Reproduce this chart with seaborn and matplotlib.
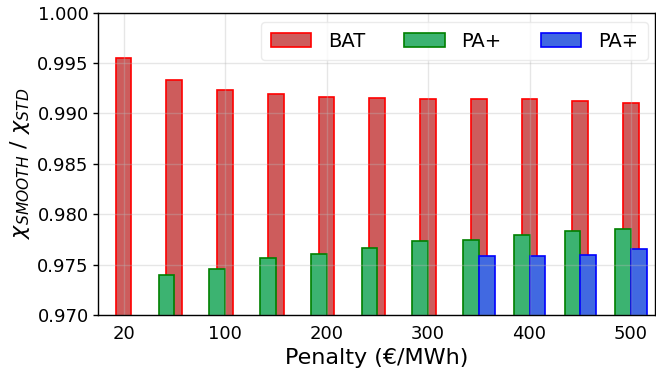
import numpy as np
import pandas as pd
import matplotlib
matplotlib.use("Agg")
import matplotlib.pyplot as plt
import seaborn as sns

penalties = [20, 50, 100, 150, 200, 250, 300, 350, 400, 450, 500]
bat = [0.99553, 0.99328, 0.99232, 0.99192, 0.99166, 0.99156, 0.99146, 0.99143, 0.99140, 0.99120, 0.99100]
pa_plus = [np.nan, 0.97400, 0.97460, 0.97562, 0.97608, 0.97668, 0.97731, 0.97741, 0.97797, 0.97833, 0.97850]
pa_pm = [np.nan, np.nan, np.nan, np.nan, np.nan, np.nan, np.nan, 0.97582, 0.97582, 0.97592, 0.97652]
tick_labels = ["20", "100", "200", "300", "400", "500"]

sns.set_theme(style="whitegrid")
plt.rcParams['font.family'] = ['DejaVu Sans']
plt.rcParams['text.color'] = 'black'
plt.rcParams['axes.labelcolor'] = 'black'
plt.rcParams['xtick.color'] = 'black'
plt.rcParams['ytick.color'] = 'black'

fig, ax = plt.subplots(figsize=(6.56, 3.8), dpi=100)
fig.subplots_adjust(left=0.149, right=0.999, bottom=0.171, top=0.967)

idx = np.arange(len(penalties))
w = 0.31
series = [
    ("BAT", bat, 0.0, "#CD5C5C", "red"),
    ("PA+", pa_plus, -w / 2, "#3CB371", "green"),
    ("PA∓", pa_pm, w / 2, "#4169E1", "blue"),
]
for name, vals, off, fc, ec in series:
    df = pd.DataFrame({"pos": idx + off, "val": vals}).dropna()
    sns.barplot(data=df, x="pos", y="val", native_scale=True, width=w,
                color=fc, saturation=1, edgecolor=ec, linewidth=1.2,
                label=name, ax=ax, errorbar=None)

ax.set_xlim(-0.51, 10.48)
ax.set_ylim(0.970, 1.000)
ax.set_xticks(idx[::2])
ax.set_xticklabels(tick_labels)
yt = np.arange(0.970, 1.0001, 0.005)
ax.set_yticks(yt)
ax.set_yticklabels([f"{v:.3f}" for v in yt])
ax.tick_params(labelsize=13, labelcolor="black")
ax.tick_params(axis="y", left=True, length=3.5, width=1, color="black", pad=3)
ax.tick_params(axis="x", bottom=True, length=0, pad=7)
ax.set_xlabel("Penalty (€/MWh)", fontsize=16, color="black")
ax.set_ylabel(r"$\chi_{SMOOTH}$ / $\chi_{STD}$", fontsize=16, color="black")
ax.set_axisbelow(False)
ax.grid(True, color="#b8b8b8", alpha=0.35, linewidth=1)
for s in ax.spines.values():
    s.set_color("black")
    s.set_linewidth(1)
    s.set_zorder(5)

leg = ax.legend(ncol=3, loc="upper right", fontsize=14, handlelength=2.1,
                handleheight=0.77, handletextpad=0.85, columnspacing=2.0,
                borderpad=0.5, borderaxespad=0, frameon=True,
                bbox_to_anchor=(0.9865, 0.969))
leg.get_frame().set_edgecolor("#e6e6e6")
for t in leg.get_texts():
    t.set_color("black")
leg.set_zorder(10)

fig.savefig("out.png", dpi=100)
